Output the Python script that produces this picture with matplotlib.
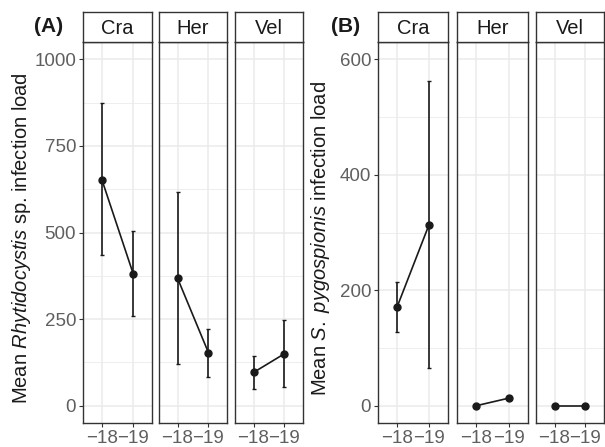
import numpy as np
import matplotlib
matplotlib.use("Agg")
import matplotlib.pyplot as plt

plt.rcParams['font.family'] = ['Liberation Sans', 'DejaVu Sans']
plt.rcParams['mathtext.fontset'] = 'custom'
plt.rcParams['mathtext.it'] = 'Liberation Sans:italic'
plt.rcParams['mathtext.rm'] = 'Liberation Sans'

sites = ['Cra', 'Her', 'Vel']
seasons = ['\u221218', '\u221219']

# panel A: Rhytidocystis sp.
rhy_mean = [[653, 381], [368, 153], [96, 150]]
rhy_lo = [[434, 260], [121, 84], [49, 55]]
rhy_hi = [[873, 503], [616, 222], [142, 248]]

# panel B: S. pygospionis
pyg_mean = [[171, 313], [0, 13], [0, 0]]
pyg_lo = [[127, 65], [0, 13], [0, 0]]
pyg_hi = [[215, 562], [0, 13], [0, 0]]

W, H = 605, 447
fig = plt.figure(figsize=(W / 100, H / 100), dpi=100)

dark = '#1a1a1a'
frame = '#333333'
grid = '#ebebeb'
txt = '#5f5f5f'

def px_axes(x0, x1, y0, y1):
    return fig.add_axes([x0 / W, 1 - y1 / H, (x1 - x0) / W, (y1 - y0) / H])

def panel(xs, means, los, his, ylim, major, minor, ylabel, tag, tagx, labx):
    top, bot, strip_top = 42, 423, 12
    for i, (x0, x1) in enumerate(xs):
        ax = px_axes(x0, x1, top, bot)
        ax.set_xlim(0.4, 2.6)
        ax.set_ylim(*ylim)
        ax.set_yticks(major)
        ax.set_yticks(minor, minor=True)
        ax.set_xticks([1, 2])
        ax.set_xticklabels(seasons)
        ax.grid(True, which='major', color=grid, lw=1.1, zorder=0)
        ax.grid(True, which='minor', axis='y', color=grid, lw=0.6, zorder=0)
        ax.set_axisbelow(True)
        for s in ax.spines.values():
            s.set_color(frame)
            s.set_linewidth(1.0)
        ax.tick_params(which='major', length=3, width=0.8, color=frame,
                       labelsize=13.5, labelcolor=txt, pad=2)
        ax.tick_params(which='minor', length=0)
        if i > 0:
            ax.tick_params(axis='y', labelleft=False, length=0)
        m = np.array(means[i], float)
        lo = np.array(los[i], float)
        hi = np.array(his[i], float)
        xx = np.array([1, 2])
        ax.errorbar(xx, m, yerr=[m - lo, hi - m], fmt='none', ecolor=dark,
                    elinewidth=1.2, capsize=1.5, capthick=1.0, zorder=3)
        ax.plot(xx, m, color=dark, lw=1.2, marker='o', ms=5, zorder=4)
        # strip
        st = px_axes(x0, x1, strip_top, top)
        st.set_xticks([])
        st.set_yticks([])
        st.set_facecolor('white')
        for s in st.spines.values():
            s.set_color(frame)
            s.set_linewidth(1.0)
        st.text(0.5, 0.46, sites[i], ha='center', va='center', fontsize=14.5,
                color='#1a1a1a', transform=st.transAxes)
    fig.text(labx / W, 1 - ((top + bot) / 2 + 6) / H, ylabel, rotation=90,
             ha='center', va='center', fontsize=14.5, color='#1a1a1a')
    fig.text(tagx / W, 1 - 27 / H, tag, ha='left', va='center',
             fontsize=15, fontweight='bold', color='#1a1a1a')

panel([(83, 152), (159, 227), (235, 303)], rhy_mean, rhy_lo, rhy_hi,
      (-50, 1050), [0, 250, 500, 750, 1000], [125, 375, 625, 875],
      'Mean $\\mathit{Rhytidocystis}$ sp. infection load', '(A)', 34, 22)

panel([(378, 448), (457, 528), (536, 604)], pyg_mean, pyg_lo, pyg_hi,
      (-30, 630), [0, 200, 400, 600], [100, 300, 500],
      'Mean $\\mathit{S.\\ pygospionis}$ infection load', '(B)', 331, 320)

fig.savefig('out.png', dpi=100)
plt.close(fig)
